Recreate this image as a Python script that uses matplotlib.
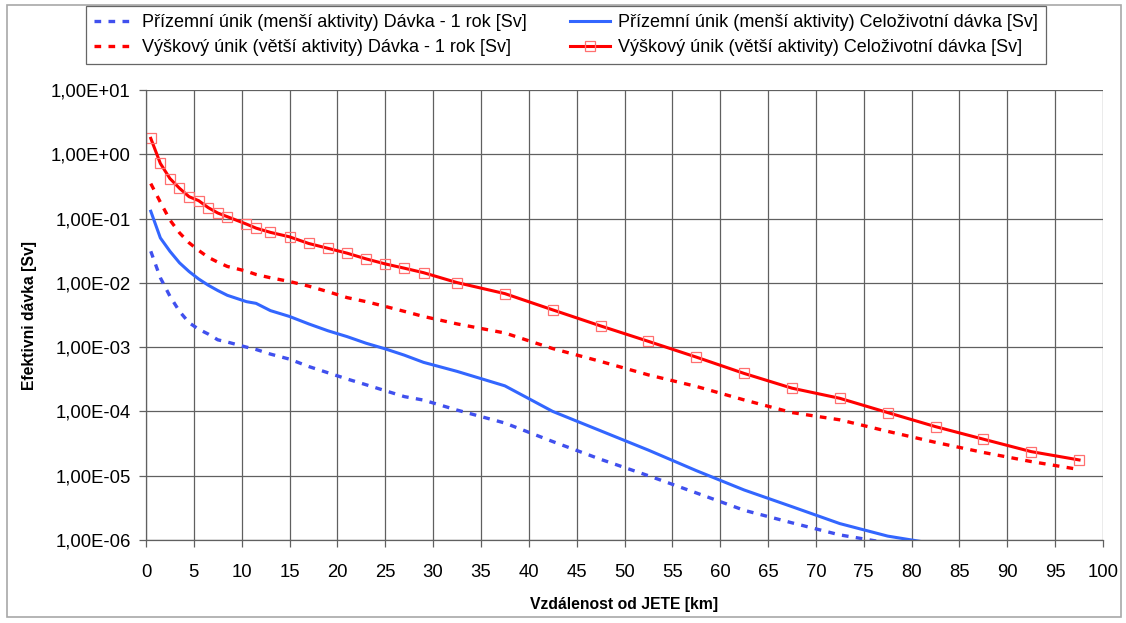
import numpy as np
import matplotlib
matplotlib.use("Agg")
import matplotlib.pyplot as plt
from matplotlib.ticker import FuncFormatter, NullLocator, MultipleLocator
from matplotlib.patches import Rectangle

plt.rcParams['font.family'] = ['Liberation Sans', 'DejaVu Sans']

# vzdálenost od JETE [km]
km = [0.5, 1.5, 2.5, 3.5, 4.5, 5.5, 6.5, 7.5, 8.5, 10.5, 11.5, 13, 15, 17, 19, 21,
      23, 25, 27, 29, 32.5, 37.5, 42.5, 47.5, 52.5, 57.5, 62.5, 67.5, 72.5, 77.5,
      82.5, 87.5, 92.5, 97.5]

# Přízemní únik (menší aktivity) Dávka - 1 rok [Sv]
prizemni_1rok = [0.031, 0.012, 0.0062, 0.0036, 0.0024, 0.0019, 0.0016, 0.0013, 0.0012,
                 0.001, 0.00092, 0.00078, 0.00065, 0.0005, 0.0004, 0.00032, 0.00026,
                 0.00021, 0.00017, 0.00015, 0.000105, 6.6e-5, 3.4e-5, 1.8e-5, 1.0e-5,
                 5.4e-6, 2.9e-6, 1.85e-6, 1.2e-6, 0.9e-6, np.nan, np.nan, np.nan, np.nan]

# Přízemní únik (menší aktivity) Celoživotní dávka [Sv]
prizemni_cel = [0.13, 0.05, 0.031, 0.0205, 0.015, 0.0115, 0.0092, 0.0076, 0.0064,
                0.0051, 0.0048, 0.0037, 0.003, 0.0023, 0.0018, 0.00146, 0.00115,
                0.00094, 0.00075, 0.00058, 0.00042, 0.00025, 0.0001, 5.0e-5, 2.5e-5,
                1.2e-5, 6e-6, 3.3e-6, 1.8e-6, 1.15e-6, 8.7e-7, np.nan, np.nan, np.nan]

# Výškový únik (větší aktivity) Dávka - 1 rok [Sv]
vyskovy_1rok = [0.35, 0.18, 0.095, 0.06, 0.042, 0.032, 0.025, 0.021, 0.018, 0.0152,
                0.0135, 0.012, 0.0105, 0.0089, 0.0073, 0.0059, 0.0051, 0.0043, 0.0036,
                0.003, 0.0023, 0.00166, 0.00095, 0.0006, 0.00037, 0.000245, 0.000151,
                9.6e-5, 7.4e-5, 4.9e-5, 3.3e-5, 2.3e-5, 1.66e-5, 1.25e-5]

# Výškový únik (větší aktivity) Celoživotní dávka [Sv]
vyskovy_cel = [1.77, 0.72, 0.42, 0.296, 0.219, 0.19, 0.148, 0.122, 0.107, 0.082, 0.071,
               0.061, 0.052, 0.041, 0.0345, 0.029, 0.0236, 0.0197, 0.0169, 0.0144,
               0.0101, 0.0068, 0.0038, 0.00214, 0.00123, 0.0007, 0.00039, 0.00023,
               0.00016, 9.6e-5, 5.8e-5, 3.7e-5, 2.37e-5, 1.76e-5]

labels = ['Přízemní únik (menší aktivity) Dávka - 1 rok [Sv]',
          'Výškový únik (větší aktivity) Dávka - 1 rok [Sv]',
          'Přízemní únik (menší aktivity) Celoživotní dávka [Sv]',
          'Výškový únik (větší aktivity) Celoživotní dávka [Sv]']

fig = plt.figure(figsize=(11.26, 6.23), dpi=100)
ax = fig.add_axes([146 / 1126, 1 - 540 / 623, (1103 - 146) / 1126, (540 - 90) / 623])

# vnější rámeček grafu
fig.patches.append(Rectangle((7 / 1126, 1 - 617 / 623), 1114 / 1126, 612 / 623,
                             transform=fig.transFigure, fill=False,
                             edgecolor='#a8a8a8', linewidth=1.2))

h1, = ax.plot(km, prizemni_1rok, color='#4050ee', lw=2.4, dashes=(2, 2.2))
h2, = ax.plot(km, vyskovy_1rok, color='#ff0000', lw=2.4, dashes=(2, 2.2))
h3, = ax.plot(km, prizemni_cel, color='#3366ff', lw=2.2)
h4, = ax.plot(km, vyskovy_cel, color='#ff0000', lw=2.2, marker='s', markersize=7,
              markerfacecolor='none', markeredgecolor='#ff7070', markeredgewidth=0.9)

ax.set_yscale('log')
ax.set_xlim(0, 100)
ax.set_ylim(1e-6, 10)
ax.xaxis.set_major_locator(MultipleLocator(5))
ax.yaxis.set_minor_locator(NullLocator())
ax.yaxis.set_major_formatter(FuncFormatter(lambda v, p: f"{v:.2E}".replace('.', ',')))

ax.grid(True, color='#606060', linewidth=0.9)
ax.set_axisbelow(True)
for side in ['top', 'right']:
    ax.spines[side].set_visible(False)
for side in ['left', 'bottom']:
    ax.spines[side].set_color('#606060')
    ax.spines[side].set_linewidth(0.9)
ax.tick_params(axis='both', direction='out', length=5, width=0.9, color='#606060',
               labelsize=13.3)
ax.tick_params(axis='y', pad=6)
ax.tick_params(axis='x', pad=12)

ax.set_xlabel('Vzdálenost od JETE [km]', fontsize=11.3, fontweight='bold', labelpad=12)
ax.set_ylabel('Efektivni dávka [Sv]', fontsize=11.3, fontweight='bold', labelpad=10)

leg = fig.legend([h1, h2, h3, h4], labels, ncol=2, loc='upper left',
                 bbox_to_anchor=(86 / 1126, 1 - 6 / 623), fontsize=13,
                 frameon=True, fancybox=False, handlelength=2.2, handletextpad=0.45,
                 columnspacing=2.4, borderpad=0.45, labelspacing=0.45, borderaxespad=0)
leg.get_frame().set_edgecolor('#404040')
leg.get_frame().set_linewidth(0.9)

fig.savefig('out.png', dpi=100)
